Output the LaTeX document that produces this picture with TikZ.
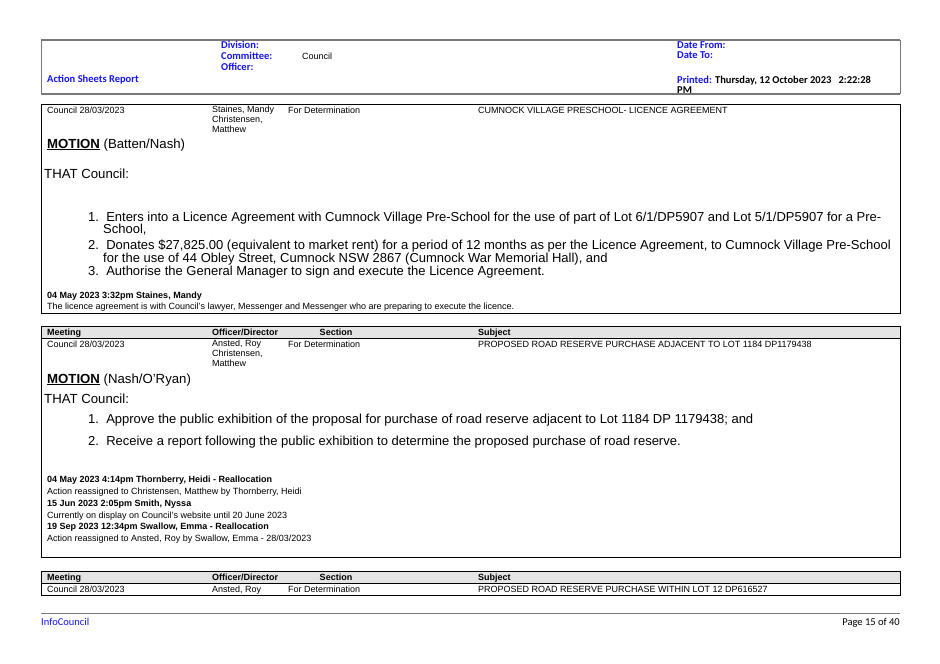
\documentclass[tikz,border=0pt]{standalone}
\usepackage{fontspec}
\setmainfont{Liberation Sans}
\newfontfamily\calfont{Carlito}
\definecolor{hb}{RGB}{20,20,240}
\definecolor{gh}{RGB}{228,228,228}
\definecolor{gl}{RGB}{120,120,120}
\begin{document}
\begin{tikzpicture}[x=1pt,y=-1pt,
 every node/.style={inner sep=0pt,anchor=base west},
 sm/.style={font=\fontsize{9}{10}\selectfont},
 sml/.style={font=\fontsize{9}{10}\selectfont,align=left,anchor=north west},
 smb/.style={font=\fontsize{9}{10}\selectfont\bfseries},
 hd/.style={font=\calfont\fontsize{10.5}{11}\selectfont\bfseries,text=hb},
 bg/.style={font=\fontsize{13}{16}\selectfont},
 mb/.style={font=\fontsize{13.2}{14}\selectfont},
 hrow/.style={fill=gh,draw=black,line width=1}]
\useasboundingbox (0,0) rectangle (940,664);
% header
\draw[gl,line width=1.5] (41,40) -- (900,40) (41,94) -- (900,94);
\draw[gl] (41,40) -- (41,94) (900,40) -- (900,94);
\node[hd] (d1) at (221,48) {Division:};
\node[hd] (d2) at (221,59) {Committee:};
\node[hd] (d3) at (221,70) {Officer:};
\node[sm] (cc) at (302,59) {Council};
\node[hd] (asr) at (47,82) {Action Sheets Report};
\node[hd] (df) at (677,48) {Date From:};
\node[hd] (dt) at (677,58) {Date To:};
\node[hd] (pr) at (677,83) {Printed: \textcolor{black}{Thursday, 12 October 2023\ \ \ 2:22:28}};
\node[hd,text=black] (pm) at (677,93) {PM};
% box 1
\draw[line width=1] (41,104) rectangle (900,313);
\node[sm] (m1) at (47,113) {Council 28/03/2023};
\node[sml] (o1) at (212,106) {Staines, Mandy\\Christensen,\\Matthew};
\node[sm] (s1) at (288,113) {For Determination};
\node[sm] (j1) at (478,113) {CUMNOCK VILLAGE PRESCHOOL- LICENCE AGREEMENT};
\node[mb] (mo1) at (47,148) {\underline{\textbf{MOTION}} (Batten/Nash)};
\node[mb] (tc1) at (44,178) {THAT Council:};
\node[bg] (i11) at (88,221) {1.\ \ Enters into a Licence Agreement with Cumnock Village Pre-School for the use of part of Lot 6/1/DP5907 and Lot 5/1/DP5907 for a Pre-};
\node[bg] (i11b) at (103,233) {School,};
\node[bg] (i12) at (88,249) {2.\ \ Donates \$27,825.00 (equivalent to market rent) for a period of 12 months as per the Licence Agreement, to Cumnock Village Pre-School};
\node[bg] (i12b) at (103,262) {for the use of 44 Obley Street, Cumnock NSW 2867 (Cumnock War Memorial Hall), and};
\node[bg] (i13) at (88,275) {3.\ \ Authorise the General Manager to sign and execute the Licence Agreement.};
\node[smb] (n1) at (47,298) {04 May 2023 3:32pm Staines, Mandy};
\node[sm] (n1b) at (47,309) {The licence agreement is with Council's lawyer, Messenger and Messenger who are preparing to execute the licence.};
% box 2
\draw[line width=1] (41,326) rectangle (900,557);
\draw[hrow] (41,326) rectangle (900,338);
\node[smb] (h1) at (47,335) {Meeting};
\node[smb] (h2) at (212,335) {Officer/Director};
\node[smb,anchor=base] (h3) at (336,335) {Section};
\node[smb] (h4) at (478,335) {Subject};
\node[sm] (m2) at (47,347) {Council 28/03/2023};
\node[sml] (o2) at (212,340) {Ansted, Roy\\Christensen,\\Matthew};
\node[sm] (s2) at (288,347) {For Determination};
\node[sm] (j2) at (478,347) {PROPOSED ROAD RESERVE PURCHASE ADJACENT TO LOT 1184 DP1179438};
\node[mb] (mo2) at (47,383) {\underline{\textbf{MOTION}} (Nash/O'Ryan)};
\node[mb] (tc2) at (44,403) {THAT Council:};
\node[bg] (i21) at (88,423) {1.\ \ Approve the public exhibition of the proposal for purchase of road reserve adjacent to Lot 1184 DP 1179438; and};
\node[bg] (i22) at (88,445) {2.\ \ Receive a report following the public exhibition to determine the proposed purchase of road reserve.};
\node[smb] (n21) at (47,482) {04 May 2023 4:14pm Thornberry, Heidi - Reallocation};
\node[sm] (n21b) at (47,494) {Action reassigned to Christensen, Matthew by Thornberry, Heidi};
\node[smb] (n22) at (47,506) {15 Jun 2023 2:05pm Smith, Nyssa};
\node[sm] (n22b) at (47,518) {Currently on display on Council's website until 20 June 2023};
\node[smb] (n23) at (47,529) {19 Sep 2023 12:34pm Swallow, Emma - Reallocation};
\node[sm] (n23b) at (47,541) {Action reassigned to Ansted, Roy by Swallow, Emma - 28/03/2023};
% box 3
\draw[line width=1] (41,571) rectangle (900,595);
\draw[hrow] (41,571) rectangle (900,583);
\node[smb] (h31) at (47,580) {Meeting};
\node[smb] (h32) at (212,580) {Officer/Director};
\node[smb,anchor=base] (h33) at (336,580) {Section};
\node[smb] (h34) at (478,580) {Subject};
\node[sm] (m3) at (47,592) {Council 28/03/2023};
\node[sm] (o3) at (212,592) {Ansted, Roy};
\node[sm] (s3) at (288,592) {For Determination};
\node[sm] (j3) at (478,592) {PROPOSED ROAD RESERVE PURCHASE WITHIN LOT 12 DP616527};
% footer
\draw[gl] (41,613) -- (900,613);
\node[font=\calfont\fontsize{10.5}{11}\selectfont,text=hb] (ic) at (41,625) {InfoCouncil};
\node[font=\calfont\fontsize{10.5}{11}\selectfont,anchor=base east] (pg) at (900,625) {Page 15 of 40};
\end{tikzpicture}
\end{document}
